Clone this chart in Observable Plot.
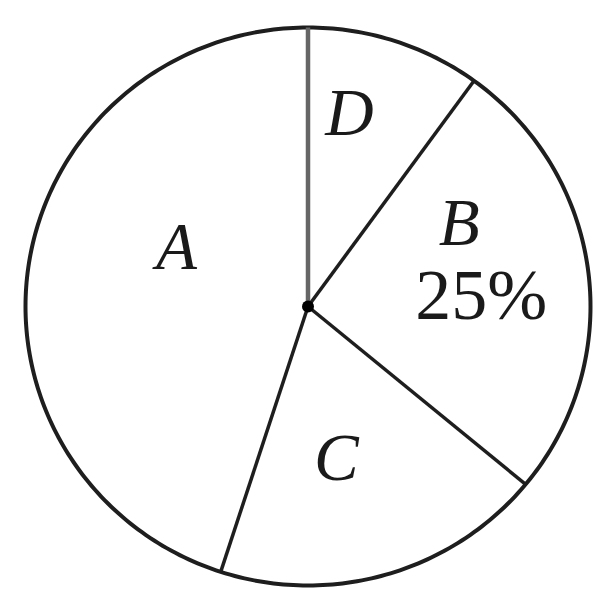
<!DOCTYPE html>
<html>
<head>
<meta charset="utf-8">
<script src="https://cdn.jsdelivr.net/npm/d3@7"></script>
<script src="https://cdn.jsdelivr.net/npm/@observablehq/plot@0.6"></script>
<style>
  html, body { margin: 0; padding: 0; background: #fff; }
</style>
</head>
<body>
<div id="chart"></div>
<script>
// Slices in clockwise order starting at 12 o'clock
const categories = ["D", "B", "C", "A"];
const shares = [10, 26, 19, 45];
const annotations = ["", "25%", "", ""]; // printed percentage labels

// Angles from d3.pie (clockwise from north)
const pie = d3.pie().sort(null).value(d => d)(shares);
const slices = categories.map((c, i) => ({
  category: c,
  note: annotations[i],
  start: pie[i].startAngle,
  end: pie[i].endAngle,
  mid: (pie[i].startAngle + pie[i].endAngle) / 2
}));

// Radial boundary lines (one per slice start)
const boundaries = slices.map((s, i) => ({
  x2: Math.sin(s.start), y2: Math.cos(s.start), first: i === 0
}));

// Outline of the pie
const outline = d3.range(0, 361).map(a => ({
  x: Math.sin(a * Math.PI / 180), y: Math.cos(a * Math.PI / 180)
}));

const labelR = 0.6;
const lab = s => ({ x: labelR * Math.sin(s.mid), y: labelR * Math.cos(s.mid), text: s.category, note: s.note });
const byCat = c => [lab(slices.find(s => s.category === c))];

const font = "'Liberation Serif', 'DejaVu Serif', serif";
const textOpts = {fontSize: 67, fontFamily: font, fontStyle: "italic", fill: "#1a1a1a", textAnchor: "middle"};

const chart = Plot.plot({
  width: 596,
  height: 590,
  marginLeft: 25,
  marginRight: 6,
  marginTop: 27,
  marginBottom: 5,
  x: {domain: [-1, 1], axis: null},
  y: {domain: [-1, 1], axis: null},
  style: {background: "white"},
  marks: [
    Plot.line(outline, {x: "x", y: "y", stroke: "#1e1e1e", strokeWidth: 4}),
    Plot.link(boundaries.filter(d => !d.first), {x1: 0, y1: 0, x2: "x2", y2: "y2", stroke: "#1e1e1e", strokeWidth: 3.5}),
    Plot.link(boundaries.filter(d => d.first), {x1: 0, y1: 0, x2: "x2", y2: "y2", stroke: "#666", strokeWidth: 4.5}),
    Plot.dot([{x: 0, y: 0}], {x: "x", y: "y", r: 6, fill: "#000", stroke: "none"}),
    Plot.text(byCat("D"), {x: "x", y: "y", text: "text", ...textOpts, dx: -11, dy: -34}),
    Plot.text(byCat("B"), {x: "x", y: "y", text: "text", ...textOpts, dx: -17, dy: -62}),
    Plot.text(byCat("B"), {x: "x", y: "y", text: "note", ...textOpts, fontStyle: "normal", fontSize: 72, dx: 5, dy: 10}),
    Plot.text(byCat("C"), {x: "x", y: "y", text: "text", ...textOpts, dx: -19, dy: -9}),
    Plot.text(byCat("A"), {x: "x", y: "y", text: "text", ...textOpts, dx: 36, dy: -33})
  ]
});
document.getElementById("chart").appendChild(chart);
</script>
</body>
</html>
